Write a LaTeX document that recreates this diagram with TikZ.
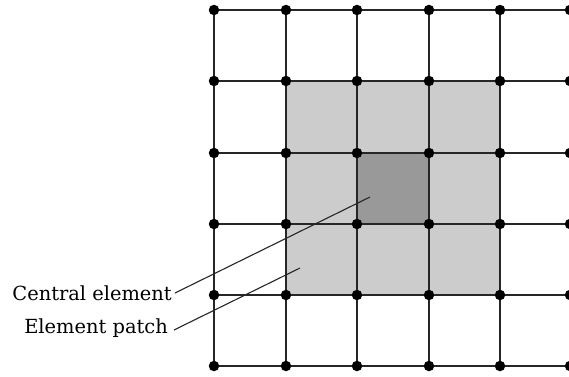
\documentclass[tikz,border=0pt]{standalone}
\usepackage{fontspec}
\setmainfont{DejaVu Serif}
\begin{document}
\begin{tikzpicture}[x=1bp,y=-1bp,
  gridline/.style={line width=1.9bp,draw=black!85},
  vertex/.style={circle,fill=black,inner sep=0pt,minimum size=10.5bp},
  leader/.style={line width=1.1bp,draw=black!85},
  label/.style={font=\fontsize{19.5}{22}\selectfont,anchor=east,inner sep=0pt}]
\useasboundingbox (0,0) rectangle (569,376);
% mesh node coordinates
\def\xs{{214,286,357,429,500,570}}
\def\ys{{10,81,153,224,295,366}}
% element patch and central element
\fill[black!20] (286,81) rectangle (500,295);
\fill[black!40] (357,153) rectangle (429,224);
% mesh lines
\foreach \i in {0,...,5} {
  \pgfmathsetmacro\xx{\xs[\i]}
  \pgfmathsetmacro\yy{\ys[\i]}
  \draw[gridline] (214,\yy) -- (570,\yy);
  \draw[gridline] (\xx,10) -- (\xx,366);
}
% mesh nodes
\foreach \i in {0,...,5} \foreach \j in {0,...,5} {
  \pgfmathsetmacro\xx{\xs[\i]}
  \pgfmathsetmacro\yy{\ys[\j]}
  \node[vertex] (v\i\j) at (\xx,\yy) {};
}
% labels
\node[label] (central) at (172,293) {Central element};
\node[label] (patch) at (168,328) {Element patch};
\coordinate (ce) at (370,197);
\coordinate (pe) at (300,268);
\draw[leader] ([xshift=3bp]central.east) -- (ce);
\draw[leader] ([xshift=6bp,yshift=-2bp]patch.east) -- (pe);
\end{tikzpicture}
\end{document}
